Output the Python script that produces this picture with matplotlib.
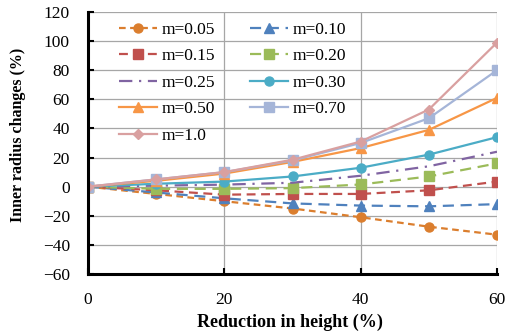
import matplotlib
matplotlib.use("Agg")
import matplotlib.pyplot as plt

x = [0, 10, 20, 30, 40, 50, 60]
labels = ["m=0.05", "m=0.10", "m=0.15", "m=0.20", "m=0.25", "m=0.30", "m=0.50", "m=0.70", "m=1.0"]
m005 = [0, -5, -10, -15, -21, -27.5, -33]
m010 = [0, -4, -8, -11.5, -13, -13.5, -12]
m015 = [0, -2.5, -5.5, -5, -5, -2.5, 3.5]
m020 = [0, -1.5, -1.5, -1, 1.5, 7, 16]
m025 = [0, 0.7, 1.4, 2.7, 7.5, 14, 24]
m030 = [0, 2, 3.5, 7, 13, 22, 34]
m050 = [0, 4, 9, 17, 26.5, 39, 61]
m070 = [0, 5, 10, 18, 30, 47, 80]
m100 = [0, 5, 10, 18.5, 31, 53, 99]
series = [m005, m010, m015, m020, m025, m030, m050, m070, m100]

colors = ["#DB7E2E", "#4F81BD", "#C0504D", "#9BBB59", "#8064A2", "#4BACC6", "#F79646", "#A5B5D8", "#D9A0A0"]
styles = [(0, (3, 2)), (0, (5, 3)), (0, (4, 2.5)), (0, (5, 3)), (0, (6, 3, 1, 3)), "-", "-", "-", "-"]
markers = ["o", "^", "s", "s", None, "o", "^", "s", "D"]
msizes = [6.5, 6.5, 6.5, 6.5, 0, 6.5, 6.5, 6.5, 5.5]

plt.rcParams["font.family"] = ["Liberation Serif", "DejaVu Serif"]

W, H = 507, 332
fig = plt.figure(figsize=(W/100, H/100), dpi=100)
ax = fig.add_axes([88/W, 1-274/H, (497-88)/W, (274-12)/H])

handles = []
for s, lab, c, ls, mk, ms in zip(series, labels, colors, styles, markers, msizes):
    h, = ax.plot(x, s, color=c, linestyle=ls, marker=mk, markersize=ms, linewidth=1.6, label=lab)
    handles.append(h)

ax.set_xlim(0, 60)
ax.set_ylim(-60, 120)
ax.set_xticks([0, 20, 40, 60])
ax.set_yticks(range(-60, 121, 20))
ax.grid(True, color="#A6A6A6", linewidth=0.9)
ax.set_axisbelow(True)
for sp in ["top", "right"]:
    ax.spines[sp].set_visible(False)
ax.spines["left"].set_linewidth(2.2)
ax.spines["bottom"].set_linewidth(2.2)
ax.tick_params(direction="in", length=4, width=1.5, labelsize=12.5)
ax.tick_params(axis="x", pad=13)
ax.tick_params(axis="y", pad=13)
fig.text(290/W, 1-322/H, "Reduction in height (%)", fontsize=13, fontweight="bold",
         ha="center", va="center")
fig.text(18/W, 1-135/H, "Inner radius changes (%)", fontsize=11.5, fontweight="bold",
         ha="center", va="center", rotation=90)

order = [0, 2, 4, 6, 8, 1, 3, 5, 7]
ax.legend([handles[i] for i in order], [labels[i] for i in order], ncol=2, frameon=False,
          loc="upper left", bbox_to_anchor=(103/W, 1-6/H), bbox_transform=fig.transFigure,
          fontsize=12.5, handlelength=2.2, handletextpad=0.25, columnspacing=2.05, labelspacing=0.6)

fig.savefig("out.png", dpi=100)
